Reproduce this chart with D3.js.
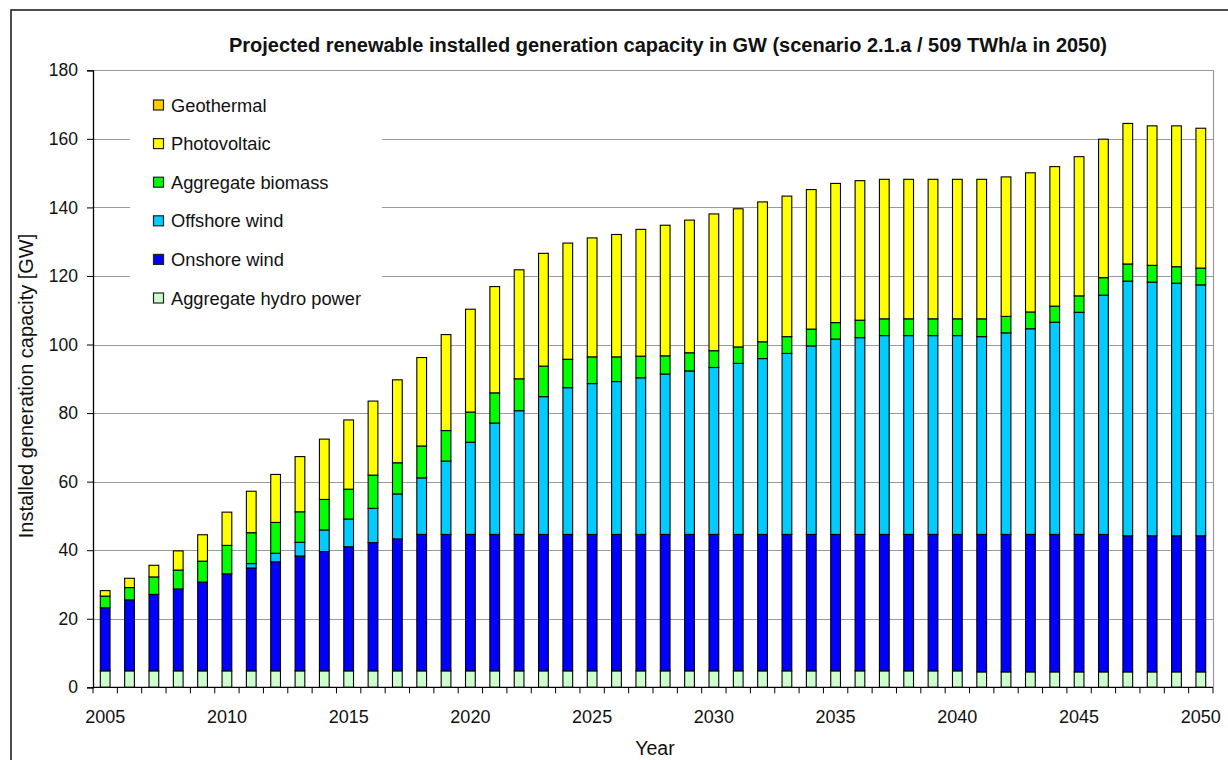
<!DOCTYPE html>
<html>
<head>
<meta charset="utf-8">
<script src="https://cdn.jsdelivr.net/npm/d3@7"></script>
<style>
  html, body { margin: 0; padding: 0; background: #fff; }
  svg { display: block; }
  text { font-family: Arial, "Liberation Sans", sans-serif; fill: #111; }
</style>
</head>
<body>
<svg id="chart" width="1228" height="760"></svg>
<script>
// ---------- DATA ----------
const years = [2005,2006,2007,2008,2009,2010,2011,2012,2013,2014,2015,2016,2017,2018,2019,2020,
  2021,2022,2023,2024,2025,2026,2027,2028,2029,2030,2031,2032,2033,2034,2035,2036,2037,2038,2039,2040,
  2041,2042,2043,2044,2045,2046,2047,2048,2049,2050];

const hydro = [4.8,4.8,4.8,4.8,4.8,4.8,4.8,4.8,4.8,4.8,4.8,4.8,4.8,4.8,4.8,4.8,
  4.8,4.8,4.8,4.8,4.8,4.8,4.8,4.8,4.8,4.8,4.8,4.8,4.8,4.8,4.8,4.8,4.8,4.8,4.8,4.8,
  4.5,4.5,4.5,4.5,4.5,4.5,4.5,4.5,4.5,4.5];

const onshore = [18.4,20.7,22.3,23.9,25.9,28.3,30.0,31.8,33.5,34.8,36.2,37.4,38.5,39.8,39.8,39.8,
  39.8,39.8,39.8,39.8,39.8,39.8,39.8,39.8,39.8,39.8,39.8,39.8,39.8,39.8,39.8,39.8,39.8,39.8,39.8,39.8,
  40.1,40.1,40.1,40.1,40.1,40.1,39.7,39.7,39.7,39.7];

const offshore = [0,0,0,0,0,0,1.3,2.5,4.0,6.3,8.1,10.0,13.1,16.5,21.4,26.9,
  32.5,36.1,40.2,42.8,44.0,44.6,45.7,46.8,47.7,48.7,49.9,51.3,52.8,55.0,57.0,57.4,58.0,58.0,58.0,58.0,
  57.7,58.8,60.0,61.9,64.8,69.8,74.3,74.0,73.7,73.2];

const biomass = [3.4,3.6,5.1,5.5,6.1,8.3,9.0,9.0,8.9,8.9,8.7,9.7,9.1,9.3,8.9,8.8,
  8.8,9.3,8.9,8.3,7.8,7.2,6.3,5.3,5.3,4.9,4.8,4.9,4.9,4.9,4.8,5.1,4.9,4.9,4.9,4.9,
  5.2,4.8,4.9,4.7,4.8,5.1,5.0,4.9,4.8,4.9];

const photovoltaic = [1.6,2.7,3.4,5.6,7.7,9.7,12.1,14.0,16.1,17.6,20.2,21.6,24.2,25.8,28.0,30.0,
  31.0,31.8,32.9,33.9,34.7,35.7,37.0,38.1,38.7,39.9,40.3,40.8,41.0,40.7,40.6,40.7,40.7,40.7,40.7,40.7,
  40.7,40.7,40.6,40.7,40.6,40.4,41.0,40.7,41.1,40.8];

const geothermal = [0,0,0,0,0,0,0,0,0,0,0,0,0,0,0,0,
  0,0,0,0,0,0,0,0,0,0,0,0,0,0,0,0,0,0,0,0,
  0,0,0,0,0,0,0,0,0,0];

const seriesNames = ["Aggregate hydro power","Onshore wind","Offshore wind","Aggregate biomass","Photovoltaic","Geothermal"];
const seriesColors = ["#CCFFCC","#0000FF","#00CCFF","#00FF00","#FFFF00","#FFCC00"];
const yTicks = [0,20,40,60,80,100,120,140,160,180];
const xTickLabels = [2005,2010,2015,2020,2025,2030,2035,2040,2045,2050];
const titleText = "Projected renewable installed generation capacity in GW (scenario 2.1.a / 509 TWh/a in 2050)";
const yTitle = "Installed generation capacity [GW]";
const xTitle = "Year";

// ---------- BUILD ----------
const seriesValues = [hydro, onshore, offshore, biomass, photovoltaic, geothermal];
const keys = seriesNames;
const table = years.map((yr, i) => {
  const row = { year: yr };
  keys.forEach((k, j) => row[k] = seriesValues[j][i]);
  return row;
});
const stacked = d3.stack().keys(keys)(table);

const svg = d3.select("#chart");
const L = 93, R = 1213, T = 70.3, B = 687.3;

const x = d3.scaleBand().domain(years).range([L, R]).paddingInner(0).paddingOuter(0);
const y = d3.scaleLinear().domain([0, 180]).range([B, T]);

// outer frame
svg.append("rect").attr("x", 11).attr("y", 10).attr("width", 1240).attr("height", 780)
  .attr("fill", "#fff").attr("stroke", "#222").attr("stroke-width", 1.6);

// gridlines
svg.append("g").selectAll("line").data(yTicks.filter(d => d > 0)).join("line")
  .attr("x1", L).attr("x2", R)
  .attr("y1", d => Math.round(y(d)) + 0.5).attr("y2", d => Math.round(y(d)) + 0.5)
  .attr("stroke", "#9a9a9a").attr("stroke-width", 1.2);

// right border of plot
svg.append("line").attr("x1", R + 0.5).attr("x2", R + 0.5).attr("y1", y(180)).attr("y2", B)
  .attr("stroke", "#9a9a9a").attr("stroke-width", 1.2);

// legend background (covers gridlines)
const legX = 130, legY = 86;
svg.append("rect").attr("x", legX).attr("y", legY).attr("width", 252).attr("height", 232).attr("fill", "#fff");

// bars
const bw = x.bandwidth() * 0.4;
const gBars = svg.append("g");
stacked.forEach((s, j) => {
  gBars.append("g").attr("fill", seriesColors[j])
    .selectAll("rect").data(s.filter(d => d[1] - d[0] > 0)).join("rect")
    .attr("x", d => x(d.data.year) + (x.bandwidth() - bw) / 2)
    .attr("width", bw)
    .attr("y", d => y(d[1]))
    .attr("height", d => y(d[0]) - y(d[1]))
    .attr("stroke", "#000").attr("stroke-width", 1.1);
});

// y axis
const yAxis = svg.append("g").attr("transform", `translate(${L},0)`)
  .call(d3.axisLeft(y).tickValues(yTicks).tickSize(6).tickPadding(9));
yAxis.select(".domain").attr("stroke", "#000").attr("stroke-width", 1.3);
yAxis.selectAll(".tick line").attr("stroke", "#000");
yAxis.selectAll(".tick text").style("font-size", "17.5px").style("font-family", "Arial, 'Liberation Sans', sans-serif").attr("fill", "#111");

// x axis
const gx = svg.append("g");
gx.append("line").attr("x1", L).attr("x2", R).attr("y1", B).attr("y2", B).attr("stroke", "#000").attr("stroke-width", 1.3);
const boundaries = years.map(d => x(d)).concat([R]);
gx.selectAll("line.tk").data(boundaries).join("line").attr("class", "tk")
  .attr("x1", d => d).attr("x2", d => d).attr("y1", B).attr("y2", B + 6)
  .attr("stroke", "#000").attr("stroke-width", 1);
gx.selectAll("text").data(xTickLabels).join("text")
  .attr("x", d => x(d) + x.bandwidth() / 2).attr("y", 723)
  .attr("text-anchor", "middle").style("font-size", "18px").text(d => d);

// titles
svg.append("text").attr("x", 668).attr("y", 52).attr("text-anchor", "middle")
  .style("font-size", "20px").style("font-weight", "bold").text(titleText);
svg.append("text").attr("transform", "translate(33,386) rotate(-90)").attr("text-anchor", "middle")
  .style("font-size", "20px").text(yTitle);
svg.append("text").attr("x", 655).attr("y", 755).attr("text-anchor", "middle")
  .style("font-size", "19.5px").text(xTitle);

// legend (top to bottom: reverse of stack order)
const legOrder = d3.range(seriesNames.length).reverse();
const lg = svg.append("g");
legOrder.forEach((j, r) => {
  const cy = 105 + r * 38.6;
  lg.append("rect").attr("x", 153.5).attr("y", cy - 5).attr("width", 10).attr("height", 10)
    .attr("fill", seriesColors[j]).attr("stroke", "#222").attr("stroke-width", 1.2);
  lg.append("text").attr("x", 171).attr("y", cy + 6.5).style("font-size", "18.3px").text(seriesNames[j]);
});
</script>
</body>
</html>
